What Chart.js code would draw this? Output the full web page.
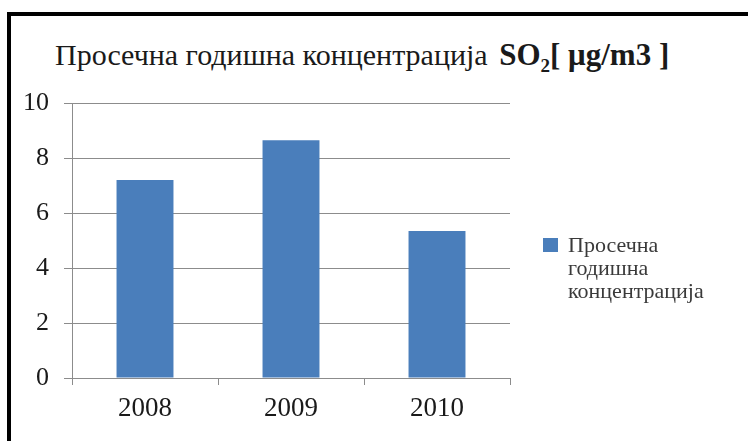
<!DOCTYPE html>
<html>
<head>
<meta charset="utf-8">
<script src="https://cdn.jsdelivr.net/npm/chart.js@4/dist/chart.umd.min.js"></script>
<style>
    html, body { margin: 0; padding: 0; background: #fff; overflow: hidden; }
    #wrap { position: relative; width: 748px; height: 441px; }
    #frame {
        position: absolute; left: 7px; top: 12px; width: 780px; height: 470px;
        border-left: 4px solid #000; border-top: 4px solid #000;
    }
    #title {
        position: absolute; left: 55px; top: 40px; white-space: nowrap; line-height: 30px;
        font-family: "Liberation Serif", serif; font-size: 30px; color: #1a1a1a;
    }
    #title b { font-size: 31px; margin-left: 4px; }
    #title b sub { font-size: 19px; }
    #legend {
        position: absolute; left: 543px; top: 233px;
        font-family: "Liberation Serif", serif; font-size: 22px; color: #3a3a3a; line-height: 23px;
    }
    #legend .box { position: absolute; left: 0; top: 5px; width: 15px; height: 14px; }
    #legend .txt { margin-left: 25px; }
    canvas { position: absolute; left: 0; top: 0; }
</style>
</head>
<body>
<div id="wrap">
    <div id="frame"></div>
    <div id="title">Просечна годишна концентрација <b>SO<sub>2</sub>[ μg/m3 ]</b></div>
    <canvas id="chart" width="748" height="441"></canvas>
    <div id="legend"></div>
</div>
<script>
const years = ["2008", "2009", "2010"];
const concentration = [7.2, 8.65, 5.35];
const seriesName = "Просечна годишна концентрација";
const barColor = "#4a7ebb";

/* legend, one word per line like the original */
document.getElementById("legend").innerHTML =
    `<span class="box" style="background:${barColor}"></span>` +
    `<div class="txt">${seriesName.split(" ").join("<br>")}</div>`;

new Chart(document.getElementById("chart"), {
    type: "bar",
    data: {
        labels: years,
        datasets: [{
            label: seriesName,
            data: concentration,
            backgroundColor: barColor,
            categoryPercentage: 1,
            barPercentage: 0.39
        }]
    },
    options: {
        responsive: false,
        animation: false,
        layout: { padding: { top: 103, right: 238, left: 0, bottom: 0 } },
        plugins: {
            legend: { display: false },
            title: { display: false },
            tooltip: { enabled: false }
        },
        scales: {
            x: {
                afterFit: s => { s.height = 63; },
                grid: { drawOnChartArea: false, tickLength: 7, color: "#8c8c8c", offset: true },
                border: { color: "#8c8c8c", width: 1 },
                ticks: { padding: 8, color: "#1a1a1a", font: { family: "Liberation Serif", size: 27 } }
            },
            y: {
                min: 0, max: 10,
                afterFit: s => { s.width = 72; },
                grid: { color: "#8c8c8c", tickLength: 8 },
                border: { color: "#8c8c8c", width: 1 },
                ticks: { stepSize: 2, padding: 15, color: "#1a1a1a", font: { family: "Liberation Serif", size: 26 } }
            }
        }
    }
});
</script>
</body>
</html>
